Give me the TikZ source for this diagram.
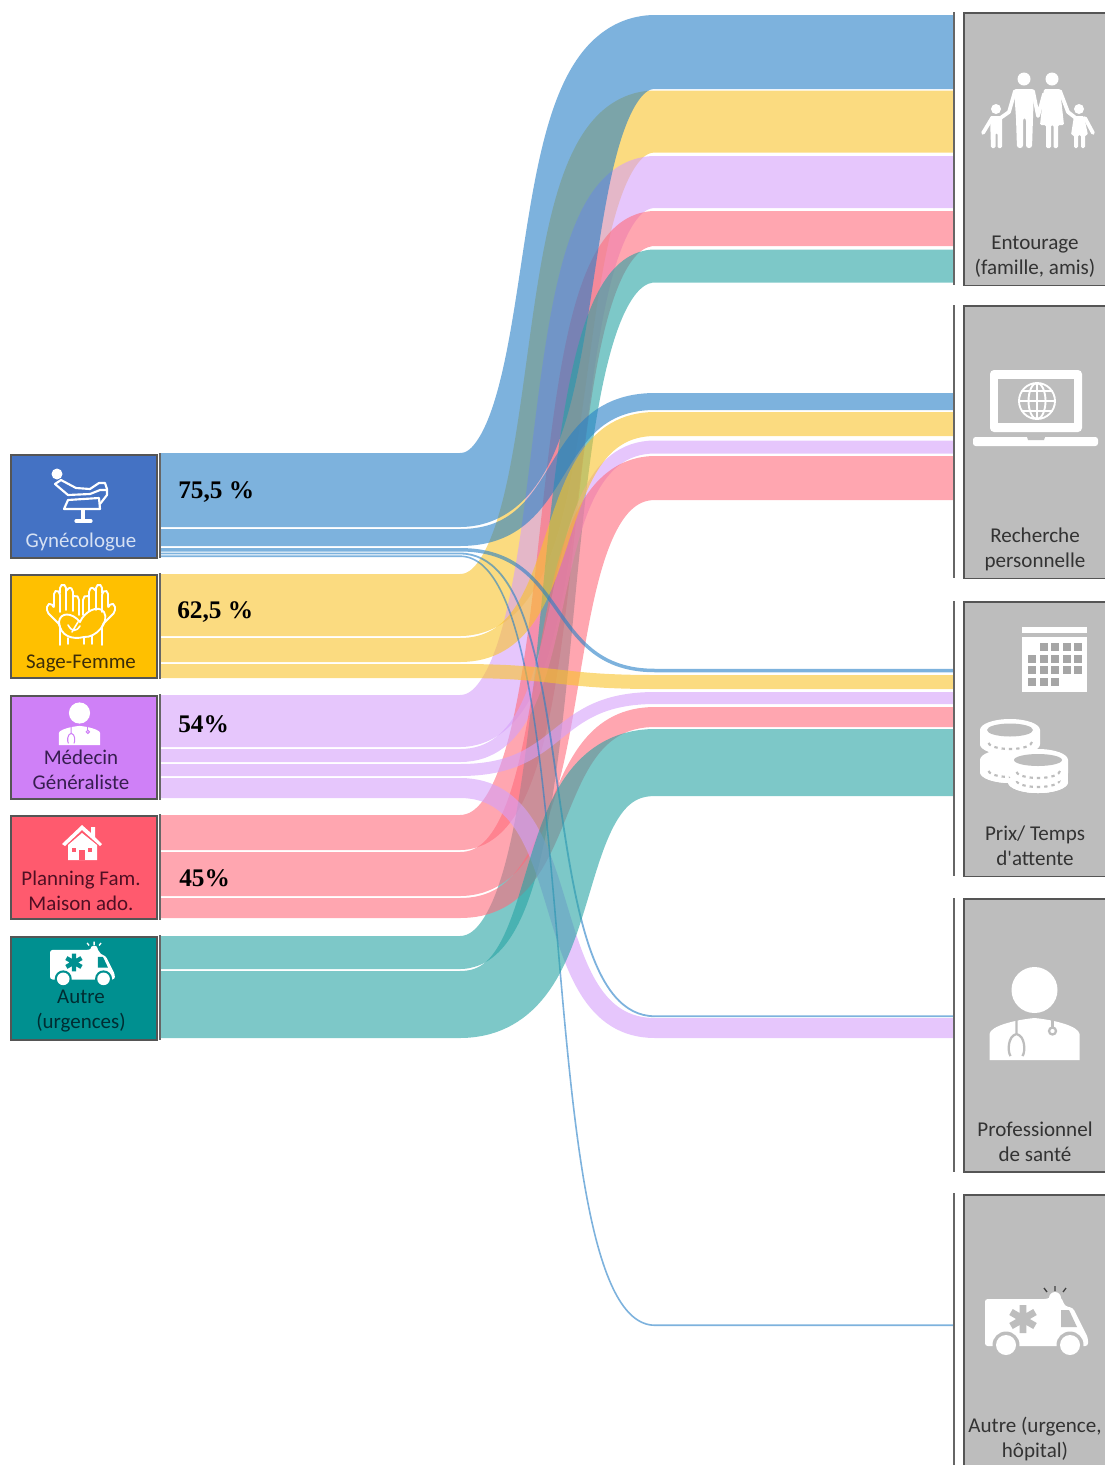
\documentclass[tikz,border=0pt]{standalone}
\usepackage{fontspec}
\setmainfont{Carlito}
\newfontfamily\plainfont{Carlito}
\newfontfamily\pctfont{Liberation Serif}
\definecolor{fblue}{HTML}{267FC6}
\definecolor{fyellow}{HTML}{F9C32B}
\definecolor{fpurple}{HTML}{D5A0FA}
\definecolor{fpink}{HTML}{FF6B7B}
\definecolor{fteal}{HTML}{26A3A3}
\definecolor{edgegray}{HTML}{555555}
\definecolor{boxgray}{HTML}{BDBDBD}
\definecolor{srcblue}{HTML}{4472C4}
\definecolor{srcyellow}{HTML}{FFC000}
\definecolor{srcpurple}{HTML}{CF80F7}
\definecolor{srcpink}{HTML}{FF5A6E}
\definecolor{srcteal}{HTML}{009090}
\tikzset{
  srcbox/.style={draw=edgegray,line width=1.5pt,minimum width=109.5pt,minimum height=77.5pt,anchor=north west,inner sep=0pt},
  dstbox/.style={draw=edgegray,fill=boxgray,line width=1.3pt,minimum width=130pt,anchor=north west,inner sep=0pt},
  srclabel/.style={align=center,font=\fontsize{15.7}{18.8}\selectfont,inner sep=0pt},
  dstlabel/.style={align=center,font=\fontsize{15.8}{18.8}\selectfont,text=black!80,inner sep=0pt},
  pct/.style={anchor=west,inner sep=0pt,font=\fontsize{19}{20}\pctfont\bfseries},
  bar/.style={draw=edgegray!90,line width=1.5pt},
  band/.style={opacity=.6,line cap=butt,line join=round},
  ico/.style={draw=white,line width=1.6pt,line cap=round,line join=round},
}
\newcommand{\flowband}[6]{%
  \pgfmathsetmacro{\bandyl}{(#3+#4)/2}\pgfmathsetmacro{\bandyr}{(#5+#6)/2}\pgfmathsetmacro{\bandw}{(#4-#3)*0.75}%
  \pgfmathsetmacro{\bandk}{195*(0.5+0.16*min(1,abs(\bandyl-\bandyr)/300))}%
  \pgfmathsetmacro{\bandxa}{460+\bandk}\pgfmathsetmacro{\bandxb}{655-\bandk}%
  \coordinate (#1-l) at (161,\bandyl);\coordinate (#1-a) at (460,\bandyl);\coordinate (#1-b) at (\bandxa,\bandyl);
  \coordinate (#1-c) at (\bandxb,\bandyr);\coordinate (#1-d) at (655,\bandyr);\coordinate (#1-r) at (953,\bandyr);
  \draw[band,draw=#2,line width=\bandw pt] (#1-l) -- (#1-a) .. controls (#1-b) and (#1-c) .. (#1-d) -- (#1-r);
}
% doctor: origin = head centre, width of body 90
\newcommand{\doctor}[4]{\begin{scope}[shift={(#1,#2)},scale=#3]
  \pgfmathsetmacro{\stw}{#3*1.7}
  \fill[white] (0,0) circle[radius=23];
  \fill[white] (-45,70) -- (-45,44) .. controls (-44,36) and (-20,30) .. (0,28) .. controls (20,30) and (44,36) .. (45,44) -- (45,70) -- cycle;
  \draw[#4,line width=\stw pt] (-18,30) -- (-18,44) (-18,44) .. controls (-27,46) and (-27,62) .. (-24,66) (-18,44) .. controls (-9,46) and (-9,62) .. (-12,66);
  \draw[#4,line width=\stw pt] (18,30) -- (18,38);
  \draw[#4,line width=\stw pt] (18,41) circle[radius=3.5];
\end{scope}}
% ambulance: origin = top-left of the body, 103 wide
\newcommand{\ambul}[5]{\begin{scope}[shift={(#1,#2)},scale=#3]
  \pgfmathsetmacro{\astw}{#3*5.2}
  \fill[white,rounded corners=2pt] (0,3) -- (62,3) -- (66,1) -- (76,1) -- (80,10) -- (88,12) -- (100,36) -- (103,42) -- (103,50) -- (0,50) -- cycle;
  \fill[white] (70,2) circle[radius=6];
  \fill[#4] (21,49) circle[radius=13.5];\fill[#4] (85,49) circle[radius=13.5];
  \fill[white] (21,49) circle[radius=10];\fill[white] (85,49) circle[radius=10];
  \fill[#4] (76,14) -- (84,14) -- (92,31) -- (76,31) -- cycle;
  \draw[#4,line width=\astw pt] (38,9) -- (38,37) (26,16) -- (50,30) (26,30) -- (50,16);
  \draw[#5,line width=1pt] (70,-5) -- (70,-10) (62,-4) -- (59,-8) (78,-4) -- (81,-8);
\end{scope}}
% coin drum: cx, top y, thickness
\newcommand{\coin}[3]{%
  \fill[white] (#1-30,#2) -- (#1-30,#2+#3) arc[start angle=180,end angle=0,x radius=30,y radius=11] -- (#1+30,#2) -- cycle;
  \fill[white] (#1,#2) circle[x radius=30,y radius=11];
  \fill[white] (#1,#2+#3) circle[x radius=30,y radius=11];
  \draw[boxgray,line width=1.6pt,dash pattern=on 2.5pt off 3pt] (#1+22,#2+#3-2) arc[start angle=0,end angle=180,x radius=22,y radius=7];
}
\begin{document}
\begin{tikzpicture}[x=.75pt,y=-.75pt]
\useasboundingbox (0,0) rectangle (1105,1465);
% ---- flows
\flowband{y1}{fyellow}{574}{636}{90}{153}
\flowband{p1}{fpurple}{695}{747}{155}{209}
\flowband{r1}{fpink}{815}{850}{211}{246}
\flowband{b1}{fblue}{453}{527}{14}{90}
\flowband{t1}{fteal}{936}{969}{249}{283}
\flowband{p2}{fpurple}{749}{762}{440}{454}
\flowband{r2}{fpink}{852}{896}{456}{500}
\flowband{b2}{fblue}{529}{546}{393}{410}
\flowband{y2}{fyellow}{638}{662}{411}{437}
\flowband{p3}{fpurple}{764}{776}{691}{705}
\flowband{r3}{fpink}{898}{918}{707}{727}
\flowband{p4}{fpurple}{778}{798}{1018}{1038}
\flowband{b3}{fblue}{548}{551.5}{668}{673}
\flowband{b4}{fblue}{552.6}{554.4}{1015.5}{1017}
\flowband{b5}{fblue}{555.4}{557}{1324.5}{1326}
\flowband{t2}{fteal}{971}{1038}{729}{796}
\flowband{y3}{fyellow}{664}{678}{675}{689}
% ---- separators
\coordinate (ls1) at (160,453);\coordinate (ls2) at (160,558);\coordinate (ls3) at (160,573);\coordinate (ls4) at (160,679);
\coordinate (ls5) at (160,694);\coordinate (ls6) at (160,800);\coordinate (ls7) at (160,814);\coordinate (ls8) at (160,920);
\coordinate (ls9) at (160,935);\coordinate (ls10) at (160,1040);
\draw[bar] (ls1)--(ls2) (ls3)--(ls4) (ls5)--(ls6) (ls7)--(ls8) (ls9)--(ls10);
\coordinate (rs1) at (954,12);\coordinate (rs2) at (954,285);\coordinate (rs3) at (954,305);\coordinate (rs4) at (954,578);
\coordinate (rs5) at (954,601);\coordinate (rs6) at (954,876);\coordinate (rs7) at (954,898);\coordinate (rs8) at (954,1172);
\coordinate (rs9) at (954,1193);\coordinate (rs10) at (954,1465);
\draw[bar] (rs1)--(rs2) (rs3)--(rs4) (rs5)--(rs6) (rs7)--(rs8) (rs9)--(rs10);
% ---- source boxes
\node[srcbox,fill=srcblue] (gyn) at (10,454) {};
\node[srcbox,fill=srcyellow] (sage) at (10,574) {};
\node[srcbox,fill=srcpurple] (med) at (10,695) {};
\node[srcbox,fill=srcpink] (plan) at (10,815) {};
\node[srcbox,fill=srcteal] (aut) at (10,936) {};
\node[srclabel,text={rgb,255:red,214;green,225;blue,243}] (gynt) at (81,542) {Gynécologue};
\node[srclabel,text={rgb,255:red,60;green,45;blue,10}] (saget) at (81,663) {Sage-Femme};
\node[srclabel,text={rgb,255:red,55;green,30;blue,80}] (medt) at (81,770) {Médecin\\Généraliste};
\node[srclabel,text={rgb,255:red,80;green,15;blue,35}] (plant) at (81,891) {Planning Fam.\\Maison ado.};
\node[srclabel,text={rgb,255:red,0;green,45;blue,50}] (autt) at (81,1011) {Autre\\(urgences)};
% ---- destination boxes
\node[dstbox,minimum height=204.5pt] (ent) at (963,12) {};
\node[dstbox,minimum height=204.5pt] (rec) at (963,305) {};
\node[dstbox,minimum height=206pt] (prix) at (963,601) {};
\node[dstbox,minimum height=205pt] (pro) at (963,898) {};
\node[dstbox,minimum height=215pt] (aur) at (963,1194) {};
\node[dstlabel] (entt) at (1035,257) {Entourage\\(famille, amis)};
\node[dstlabel] (rect) at (1035,549) {Recherche\\personnelle};
\node[dstlabel] (prixt) at (1035,846) {Prix/ Temps\\{\plainfont d'attente}};
\node[dstlabel] (prot) at (1035,1142) {Professionnel\\de santé};
\node[dstlabel] (aurt) at (1035,1439) {Autre (urgence,\\hôpital)};
% ---- percentages
\node[pct] (a75) at (178,492) {75,5 \%};
\node[pct] (a62) at (177,612) {62,5 \%};
\node[pct] (a54) at (178,724) {54\%};
\node[pct] (a45) at (179,878) {45\%};
% ---- icon: gynaecological chair
\fill[white] (57,474) circle[radius=5.5];
\draw[ico] (55,484) -- (61,480) -- (76,488) -- (90,489) -- (99,483) -- (105,483) -- (107,489) -- (107,495) -- (100,504);
\draw[ico] (55,484) -- (68,495) -- (90,494) -- (100,490) -- (106,490);
\draw[ico] (68,500) -- (99,498) -- (100,509) -- (64,509) -- cycle;
\draw[ico,line width=3pt] (83,510) -- (83,519);
\draw[ico,line width=2.4pt] (76,521) -- (91,521);
% ---- icon: hands and baby
\foreach \m/\sc in {0/1,162/-1}{
\begin{scope}[shift={(\m,0)},xscale=\sc]
\draw[ico,line width=1.4pt,rounded corners=1.5pt] (60,645) -- (60,625) -- (47,612) -- (47,605) -- (51,603) -- (54,608) -- (54,592) -- (57,590) -- (60,593) -- (60,612);
\draw[ico,line width=1.4pt,rounded corners=1.5pt] (60,593) -- (60,586) -- (63,584) -- (66,586) -- (66,610);
\draw[ico,line width=1.4pt,rounded corners=1.5pt] (66,591) -- (70,587) -- (73,590) -- (73,611);
\draw[ico,line width=1.4pt,rounded corners=1.5pt] (73,597) -- (76,595) -- (79,598) -- (79,615);
\end{scope}}
\draw[ico,line width=1.4pt] (59,622) .. controls (60,612) and (72,612) .. (80,622) .. controls (84,612) and (98,604) .. (104,612) .. controls (110,622) and (96,638) .. (84,637) .. controls (72,640) and (60,636) .. (59,622) -- cycle;
\draw[ico,line width=1.2pt] (68,625) .. controls (72,632) and (76,632) .. (80,626) (72,632) -- (78,622);
\draw[ico,line width=1.2pt] (68,644) -- (68,638) (84,644) -- (84,638) (92,644) -- (92,636);
% ---- icon: small doctor
\doctor{79.5}{713}{.46}{srcpurple}
% ---- icon: house
\fill[white] (82,825) -- (91,833) -- (91,827) -- (95,827) -- (95,837) -- (102,844) -- (100,846) -- (82,830) -- (65,846) -- (62,844) -- cycle;
\fill[white] (68,845) -- (82,833) -- (97,845) -- (97,860) -- (68,860) -- cycle;
\fill[srcpink] (72,848) rectangle (76,852);
\fill[srcpink] (88,848) rectangle (92,852);
\fill[srcpink] (79,850) rectangle (85,860);
% ---- icon: small ambulance
\ambul{50}{948}{.63}{srcteal}{white}
% ---- icon: family
\fill[white] (1024,79) circle[radius=6.5];\fill[white] (1052,79) circle[radius=6.5];
\fill[white] (996,109) circle[radius=5];\fill[white] (1079,109) circle[radius=5];
\fill[white,rounded corners=2pt] (1014,89) -- (1034,89) -- (1033,118) -- (1032,148) -- (1026,148) -- (1026,118) -- (1023,118) -- (1023,148) -- (1017,148) -- (1016,118) -- cycle;
\fill[white,rounded corners=1pt] (1044,89) -- (1060,89) -- (1064,125) -- (1058,125) -- (1058,148) -- (1053.5,148) -- (1053.5,125) -- (1051,125) -- (1051,148) -- (1046,148) -- (1046,125) -- (1040,125) -- cycle;
\fill[white,rounded corners=1pt] (990,116) -- (1002,116) -- (1002,148) -- (997.5,148) -- (997.5,133) -- (995.5,133) -- (995.5,148) -- (991,148) -- cycle;
\fill[white,rounded corners=1pt] (1074,116) -- (1084,116) -- (1088,135) -- (1085,135) -- (1085,148) -- (1081,148) -- (1081,135) -- (1078,135) -- (1078,148) -- (1074,148) -- (1074,135) -- (1071,135) -- cycle;
\draw[ico,line width=2.8pt] (1015,91) -- (1009,112) -- (999,119);
\draw[ico,line width=2.8pt] (992,118) -- (983,133);
\draw[ico,line width=2.8pt] (1033,91) -- (1038,116) -- (1044,94);
\draw[ico,line width=2.8pt] (1060,91) -- (1068,112) -- (1077,119);
\draw[ico,line width=2.8pt] (1085,118) -- (1093,133);
% ---- icon: laptop
\fill[white,rounded corners=3pt] (990,370) rectangle (1082,432);
\fill[boxgray] (998,379) rectangle (1074,423);
\fill[white,rounded corners=2pt] (973,437) rectangle (1098,446);
\fill[boxgray] (1027,437) -- (1045,437) -- (1044,440) -- (1028,440) -- cycle;
\draw[ico,line width=1.4pt] (1037,401) circle[radius=18];
\draw[ico,line width=1.4pt] (1037,401) circle[x radius=8.5,y radius=18];
\draw[ico,line width=1.4pt] (1019,401) -- (1055,401) (1037,383) -- (1037,419) (1022,391) -- (1052,391) (1022,411) -- (1052,411);
% ---- icon: calendar
\fill[white] (1022,627) rectangle (1087,633);
\fill[white] (1022,637) rectangle (1087,692);
\foreach \cx/\cy in {1/0,2/0,3/0,4/0,0/1,1/1,2/1,3/1,4/1,0/2,1/2,2/2,3/2,4/2,0/3,1/3,2/3}{
  \fill[boxgray!88!black] ({1028+11.5*\cx},{643+11.7*\cy}) rectangle ++(8,8);
}
% ---- icon: coins
\coin{1010}{760}{12}
\coin{1010}{730}{14}
\fill[boxgray] (1010,730) circle[x radius=23,y radius=6.5];
\fill[white] (1012,760) rectangle (1068,782);
\coin{1038}{782}{0}
\coin{1038}{760}{13}
\fill[boxgray] (1038,760) circle[x radius=24,y radius=6];
% ---- icons: big doctor and ambulance
\doctor{1034.5}{990}{1}{boxgray}
\ambul{985}{1296}{1}{boxgray}{black!75}
\end{tikzpicture}
\end{document}
